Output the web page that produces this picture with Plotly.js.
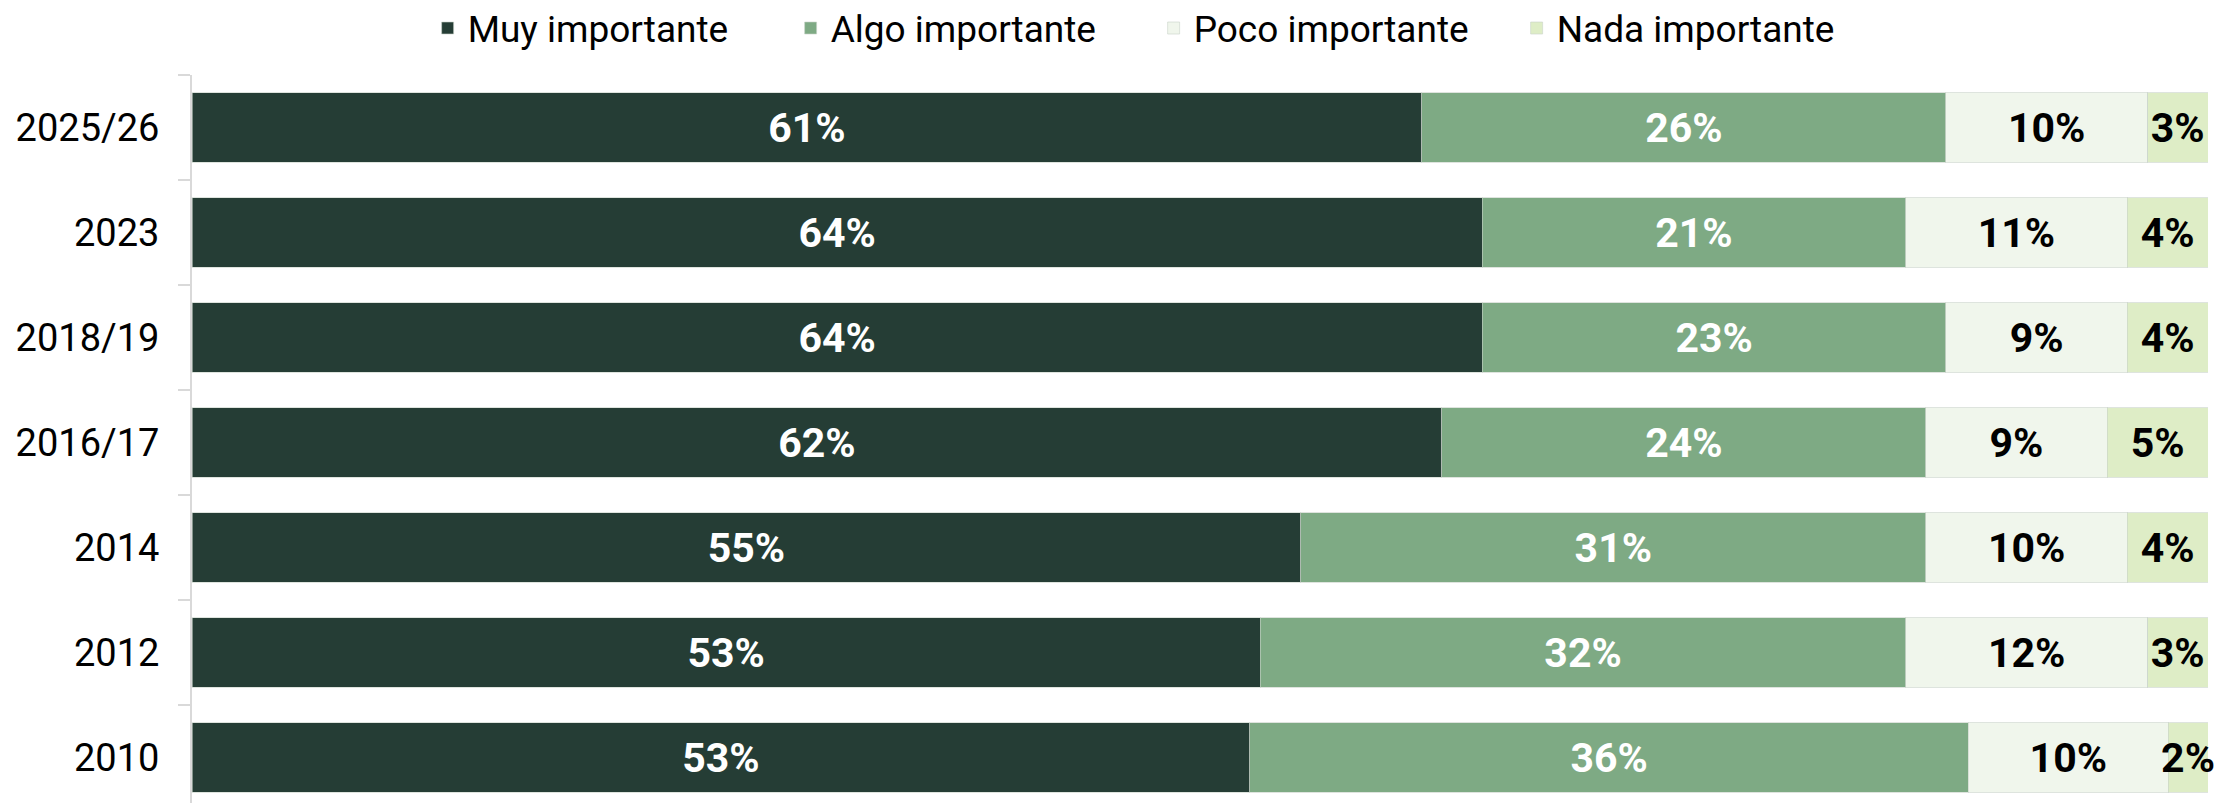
<!DOCTYPE html>
<html>
<head>
<meta charset="utf-8">
<script src="https://cdn.plot.ly/plotly-3.0.1.min.js"></script>
<style>
html,body{margin:0;padding:0;background:#fff;overflow:hidden;}
#chart{width:2218px;height:830px;position:relative;top:-15px;}
</style>
</head>
<body>
<div id="chart"></div>
<script>
// Categories (top to bottom)
const years = ["2025/26", "2023", "2018/19", "2016/17", "2014", "2012", "2010"];
// Series values (%)
const muyImportante  = [61, 64, 64, 62, 55, 53, 53];
const algoImportante = [26, 21, 23, 24, 31, 32, 36];
const pocoImportante = [10, 11, 9, 9, 10, 12, 10];
const nadaImportante = [3, 4, 4, 5, 4, 3, 2];

const seriesNames  = ["Muy importante", "Algo importante", "Poco importante", "Nada importante"];
const seriesValues = [muyImportante, algoImportante, pocoImportante, nadaImportante];
const seriesColors = ["#253d35", "#7eaa84", "#f0f6ec", "#deedc6"];
const labelColors  = ["#ffffff", "#ffffff", "#000000", "#000000"];

const traces = seriesNames.map((name, i) => ({
  type: "bar",
  orientation: "h",
  name: name,
  y: years,
  x: seriesValues[i],
  text: seriesValues[i].map(v => v + "%"),
  textposition: "inside",
  insidetextanchor: "middle",
  textangle: 0,
  constraintext: "none",
  cliponaxis: false,
  textfont: {family: "Roboto, sans-serif", size: 41, color: labelColors[i], weight: "bold"},
  marker: {color: seriesColors[i], line: {color: "rgba(200,210,200,0.6)", width: 1}},
  hoverinfo: "skip"
}));

const layout = {
  width: 2218,
  height: 830,
  margin: {l: 192, r: 10, t: 90, b: 5, pad: 0},
  barmode: "stack",
  barnorm: "percent",
  bargap: 0.336,
  paper_bgcolor: "#ffffff",
  plot_bgcolor: "#ffffff",
  font: {family: "Roboto, sans-serif", size: 37, color: "#000000"},
  showlegend: true,
  legend: {
    orientation: "h",
    x: 0.477, xanchor: "center",
    y: 1.1055, yanchor: "top",
    entrywidth: 318,
    entrywidthmode: "pixels",
    font: {family: "Roboto, sans-serif", size: 37, color: "#000000"},
    traceorder: "normal",
    itemclick: false
  },
  xaxis: {
    range: [0, 100],
    visible: false,
    showgrid: false,
    zeroline: false,
    fixedrange: true
  },
  yaxis: {
    type: "category",
    categoryorder: "array",
    categoryarray: years,
    autorange: "reversed",
    showline: true,
    linecolor: "#d9d9d9",
    linewidth: 2,
    ticks: "outside",
    ticklen: 12,
    tickwidth: 2,
    tickcolor: "#d9d9d9",
    tickson: "boundaries",
    ticklabelstandoff: 23,
    tickfont: {family: "Roboto, sans-serif", size: 38, color: "#000000"},
    showgrid: false,
    zeroline: false,
    fixedrange: true
  }
};

Plotly.newPlot("chart", traces, layout, {displayModeBar: false, staticPlot: true});
</script>
</body>
</html>
